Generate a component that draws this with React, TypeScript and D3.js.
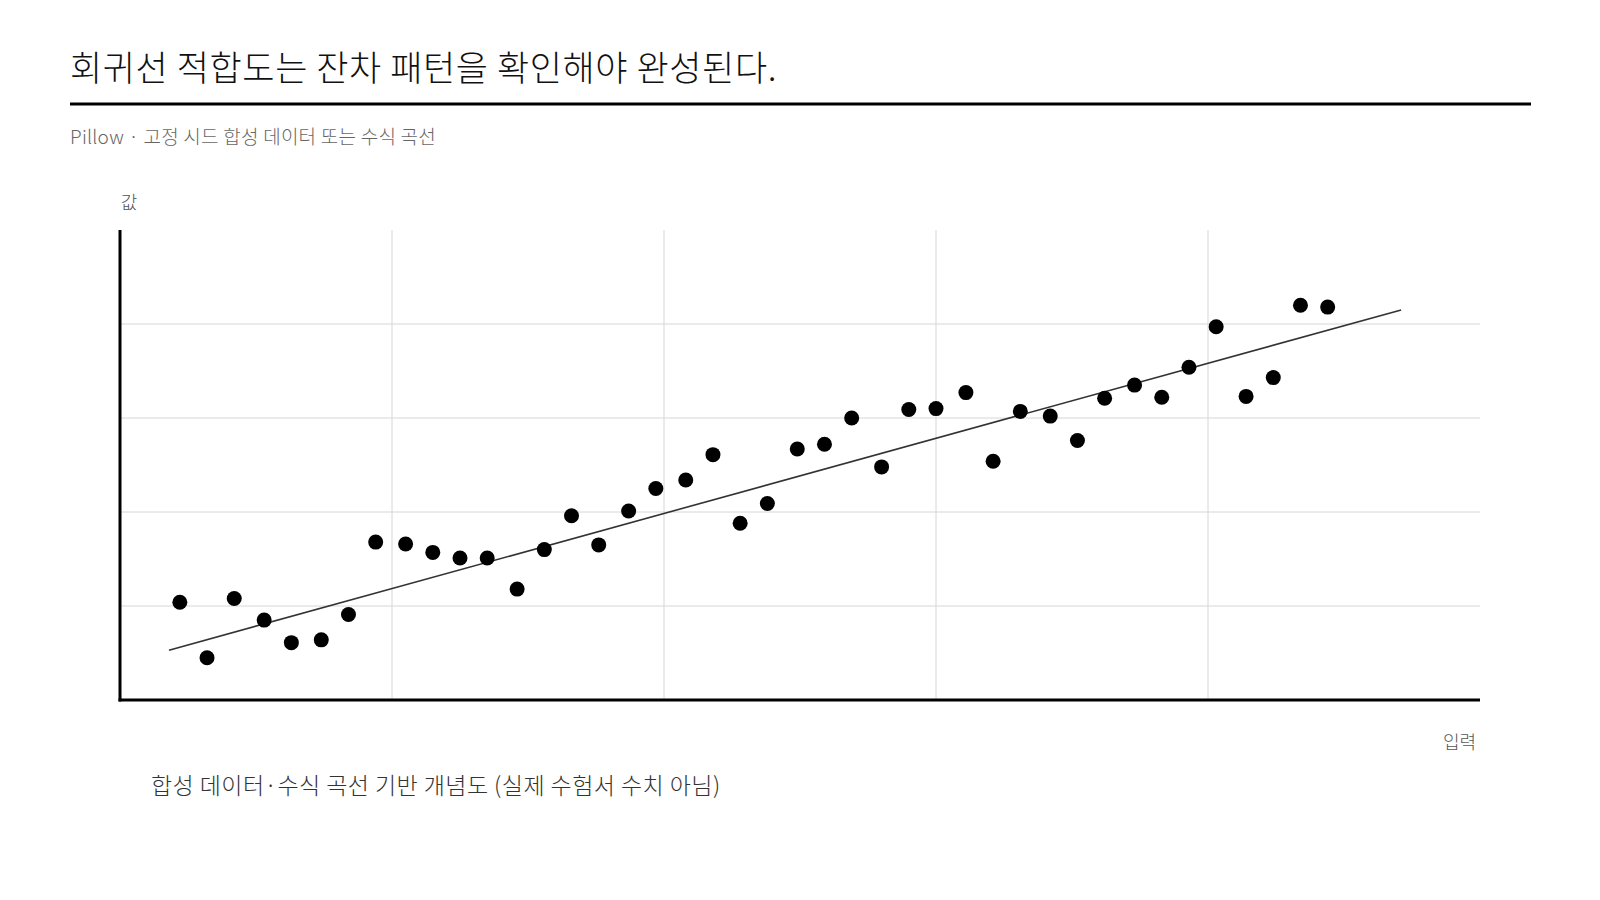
import { useEffect, useRef } from 'react';
import * as d3 from 'd3';

// chart texts
const titleText = '회귀선 적합도는 잔차 패턴을 확인해야 완성된다.';
const subtitleText = 'Pillow · 고정 시드 합성 데이터 또는 수식 곡선';
const yLabelText = '값';
const xLabelText = '입력';
const footnoteText = '합성 데이터·수식 곡선 기반 개념도 (실제 수험서 수치 아님)';

const inputs = [
  0.22, 0.32, 0.42, 0.53, 0.63, 0.74, 0.84, 0.94, 1.05, 1.15, 1.25, 1.35, 1.46, 1.56,
  1.66, 1.76, 1.87, 1.97, 2.08, 2.18, 2.28, 2.38, 2.49, 2.59, 2.69, 2.8, 2.9, 3.0,
  3.11, 3.21, 3.31, 3.42, 3.52, 3.62, 3.73, 3.83, 3.93, 4.03, 4.14, 4.24, 4.34, 4.44,
];
const values = [
  1.04, 0.45, 1.08, 0.85, 0.61, 0.64, 0.91, 1.68, 1.66, 1.57, 1.51, 1.51, 1.18, 1.6,
  1.96, 1.65, 2.01, 2.25, 2.34, 2.61, 1.88, 2.09, 2.67, 2.72, 3.0, 2.48, 3.09, 3.1,
  3.27, 2.54, 3.07, 3.02, 2.76, 3.21, 3.35, 3.22, 3.54, 3.97, 3.23, 3.43, 4.2, 4.18,
];

// fitted regression line endpoints
const fitInputs = [0.18, 4.71];
const fitValues = [0.53, 4.15];

// gridline ticks
const xTicks = [1, 2, 3, 4];
const yTicks = [1, 2, 3, 4];

const WIDTH = 1600;
const HEIGHT = 900;
const margin = { top: 230, right: 120, bottom: 200, left: 120 };
const FONT = '"Noto Sans CJK KR", "Noto Sans", sans-serif';

export default function App() {
  const svgRef = useRef<SVGSVGElement>(null);

  useEffect(() => {
    if (!svgRef.current) return;
    const svg = d3.select(svgRef.current);
    svg.selectAll('*').remove();

    const x = d3.scaleLinear().domain([0, 5]).range([margin.left, WIDTH - margin.right]);
    const y = d3.scaleLinear().domain([0, 5]).range([HEIGHT - margin.bottom, margin.top]);

    // Title + rule
    svg.append('text')
      .attr('x', 70)
      .attr('y', 81)
      .attr('font-family', FONT)
      .attr('font-weight', 300)
      .attr('font-size', 35)
      .attr('letter-spacing', 0.6)
      .attr('fill', '#111')
      .text(titleText);

    svg.append('line')
      .attr('x1', 70)
      .attr('x2', 1531)
      .attr('y1', 104)
      .attr('y2', 104)
      .attr('stroke', '#000')
      .attr('stroke-width', 3);

    svg.append('text')
      .attr('x', 70)
      .attr('y', 144)
      .attr('font-family', FONT)
      .attr('font-weight', 300)
      .attr('font-size', 19)
      .attr('letter-spacing', 0.25)
      .attr('fill', '#666')
      .text(subtitleText);

    // Grid lines
    const grid = svg.append('g').attr('stroke', '#d6d6d6').attr('stroke-width', 1);
    grid.selectAll('line.gx')
      .data(xTicks)
      .enter()
      .append('line')
      .attr('class', 'gx')
      .attr('x1', (d) => x(d))
      .attr('x2', (d) => x(d))
      .attr('y1', y(5))
      .attr('y2', y(0));
    grid.selectAll('line.gy')
      .data(yTicks)
      .enter()
      .append('line')
      .attr('class', 'gy')
      .attr('x1', x(0))
      .attr('x2', x(5))
      .attr('y1', (d) => y(d))
      .attr('y2', (d) => y(d));

    // Axes (plain spines)
    svg.append('line')
      .attr('x1', x(0))
      .attr('x2', x(0))
      .attr('y1', y(5))
      .attr('y2', y(0) + 1.5)
      .attr('stroke', '#000')
      .attr('stroke-width', 3);
    svg.append('line')
      .attr('x1', x(0) - 1.5)
      .attr('x2', x(5))
      .attr('y1', y(0))
      .attr('y2', y(0))
      .attr('stroke', '#000')
      .attr('stroke-width', 3);

    // Regression line
    const line = d3
      .line<number>()
      .x((d) => x(d))
      .y((_, i) => y(fitValues[i]));
    svg.append('path')
      .datum(fitInputs)
      .attr('fill', 'none')
      .attr('stroke', '#333')
      .attr('stroke-width', 1.6)
      .attr('d', line);

    // Points
    svg.append('g')
      .selectAll('circle')
      .data(inputs)
      .enter()
      .append('circle')
      .attr('cx', (d) => x(d))
      .attr('cy', (_, i) => y(values[i]))
      .attr('r', 7.5)
      .attr('fill', '#000');

    // Axis labels
    svg.append('text')
      .attr('x', 129)
      .attr('y', 209)
      .attr('text-anchor', 'middle')
      .attr('font-family', FONT)
      .attr('font-weight', 300)
      .attr('font-size', 18)
      .attr('fill', '#555')
      .text(yLabelText);

    svg.append('text')
      .attr('x', 1476)
      .attr('y', 749)
      .attr('text-anchor', 'end')
      .attr('font-family', FONT)
      .attr('font-weight', 300)
      .attr('font-size', 18)
      .attr('fill', '#555')
      .text(xLabelText);

    // Footnote
    svg.append('text')
      .attr('x', 151)
      .attr('y', 794)
      .attr('font-family', FONT)
      .attr('font-weight', 300)
      .attr('font-size', 23)
      .attr('letter-spacing', 0.45)
      .attr('fill', '#333')
      .text(footnoteText);
  }, []);

  return (
    <svg
      ref={svgRef}
      width={WIDTH}
      height={HEIGHT}
      viewBox={`0 0 ${WIDTH} ${HEIGHT}`}
      style={{ position: 'absolute', left: 0, top: 0, background: '#fff', display: 'block' }}
    />
  );
}
